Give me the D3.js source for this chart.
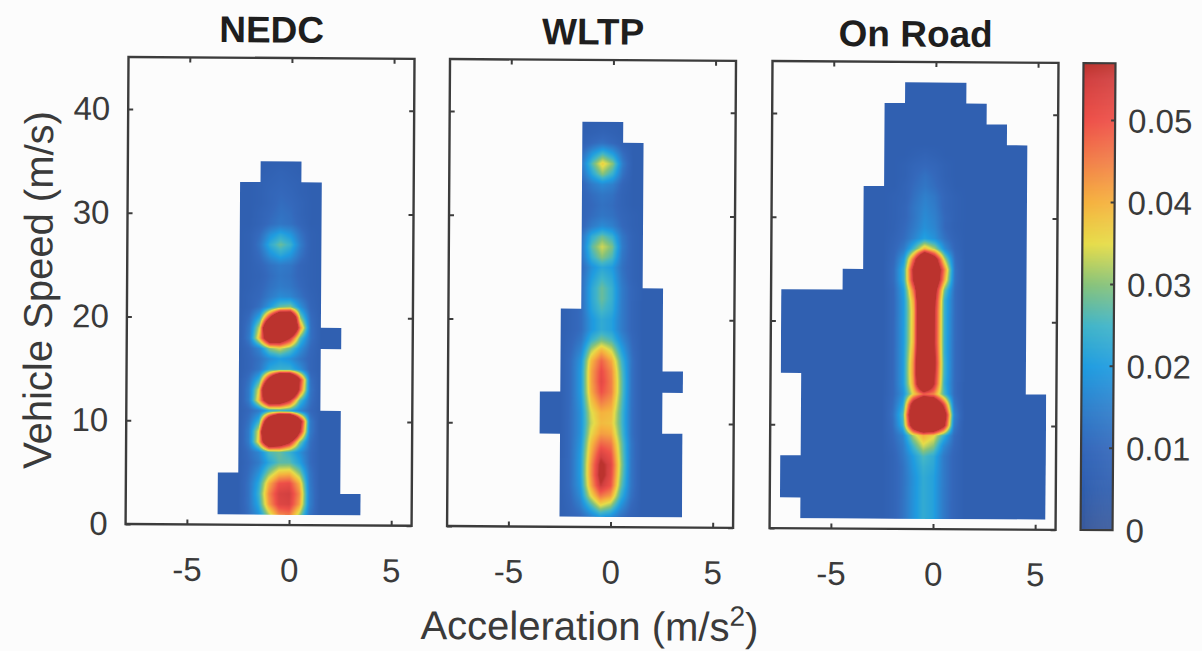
<!DOCTYPE html>
<html>
<head>
<meta charset="utf-8">
<script src="https://cdn.jsdelivr.net/npm/d3@7"></script>
<style>
  html, body { margin: 0; padding: 0; background: #fcfcfc; }
  svg { display: block; }
  text { font-family: "Liberation Sans", Arial, Helvetica, sans-serif; }
</style>
</head>
<body>
<svg id="chart" width="1202" height="651"></svg>
<script>
// ---------------------------------------------------------------------------
// Data
// ---------------------------------------------------------------------------
const panelTitles = ["NEDC", "WLTP", "On Road"];
const accelTicks = [-5, 0, 5];
const speedTicks = [0, 10, 20, 30, 40];
const colorTicks = [0, 0.01, 0.02, 0.03, 0.04, 0.05];
const colorTickLabels = ["0", "0.01", "0.02", "0.03", "0.04", "0.05"];

// Occupied 2 m/s x 1 m/s^2 bins: [speed bin centre, first accel bin, last accel bin]
const nedcBins = [
  [2, -3, 3], [4, -3, 2], [6, -2, 2], [8, -2, 2], [10, -2, 2], [12, -2, 1],
  [14, -2, 1], [16, -2, 1], [18, -2, 2], [20, -2, 1], [22, -2, 1], [24, -2, 1],
  [26, -2, 1], [28, -2, 1], [30, -2, 1], [32, -2, 1], [34, -1, 0]
];
const wltpBins = [
  [2, -2, 3], [4, -2, 3], [6, -2, 3], [8, -2, 3], [10, -3, 2], [12, -3, 2],
  [14, -2, 3], [16, -2, 2], [18, -2, 2], [20, -2, 2], [22, -1, 2], [24, -1, 1],
  [26, -1, 1], [28, -1, 1], [30, -1, 1], [32, -1, 1], [34, -1, 1], [36, -1, 1],
  [38, -1, 0]
];
const roadBins = [
  [2, -6, 5], [4, -7, 5], [6, -7, 5], [8, -6, 5], [10, -6, 5], [12, -6, 5],
  [14, -6, 4], [16, -7, 4], [18, -7, 4], [20, -7, 4], [22, -7, 4], [24, -4, 4],
  [26, -3, 4], [28, -3, 4], [30, -3, 4], [32, -3, 4], [34, -2, 4], [36, -2, 4],
  [38, -2, 3], [40, -2, 2], [42, -1, 1]
];

// Density estimate (x 0.001) sampled at these accelerations, one row per 1 m/s of speed
// starting at 0 m/s. Outside the sampled window the density is the floor value.
const densityAccel = [-2, -1.5, -1, -0.5, 0, 0.5, 1];
const densityFloor = 6;

const nedcDensity = [
  [10, 14, 22, 30, 32, 22, 11],
  [11, 18, 32, 44, 46, 32, 13],
  [12, 22, 42, 53, 54, 42, 15],
  [12, 24, 44, 54, 55, 44, 15],
  [12, 22, 40, 50, 51, 40, 14],
  [11, 18, 30, 38, 39, 30, 13],
  [10, 14, 22, 27, 27, 21, 11],
  [11, 16, 26, 28, 24, 18, 11],
  [14, 38, 84, 76, 60, 30, 12],
  [14, 36, 120, 130, 110, 58, 14],
  [12, 24, 80, 130, 130, 66, 14],
  [10, 14, 22, 24, 22, 16, 10],
  [14, 40, 76, 72, 56, 26, 12],
  [14, 36, 110, 130, 110, 50, 13],
  [12, 24, 64, 110, 110, 56, 12],
  [9, 13, 22, 24, 24, 18, 9],
  [9, 12, 17, 20, 18, 13, 9],
  [10, 16, 30, 34, 28, 18, 10],
  [14, 40, 78, 74, 56, 26, 12],
  [13, 34, 100, 120, 100, 44, 12],
  [11, 22, 56, 90, 90, 30, 11],
  [8, 12, 20, 28, 30, 18, 9],
  [8, 10, 14, 17, 16, 12, 8],
  [7, 9, 12, 14, 13, 10, 7],
  [7, 8, 11, 13, 12, 9, 7],
  [7, 9, 12, 14, 13, 9, 7],
  [7, 11, 18, 22, 19, 12, 7],
  [7, 13, 23, 28, 24, 14, 7],
  [7, 11, 18, 22, 19, 12, 7],
  [6, 8, 11, 13, 12, 9, 6],
  [6, 8, 10, 12, 11, 8, 6],
  [6, 7, 9, 11, 10, 8, 6],
  [6, 7, 9, 10, 9, 7, 6],
  [6, 7, 8, 9, 8, 7, 6],
  [6, 6, 7, 8, 7, 6, 6],
  [6, 6, 6, 6, 6, 6, 6]
];

const wltpDensity = [
  [7, 8, 10, 12, 11, 8, 7],
  [8, 10, 15, 20, 18, 12, 8],
  [9, 14, 24, 34, 30, 18, 10],
  [10, 17, 34, 46, 42, 24, 12],
  [11, 19, 40, 56, 50, 28, 13],
  [11, 20, 42, 60, 52, 30, 13],
  [11, 20, 42, 59, 53, 31, 13],
  [11, 20, 40, 54, 50, 30, 13],
  [11, 19, 38, 48, 46, 29, 13],
  [11, 18, 35, 42, 41, 27, 12],
  [11, 18, 33, 39, 38, 26, 12],
  [11, 18, 34, 40, 39, 26, 12],
  [11, 19, 37, 45, 42, 27, 12],
  [11, 20, 40, 50, 45, 28, 12],
  [11, 20, 41, 52, 45, 28, 12],
  [11, 20, 41, 51, 44, 27, 12],
  [11, 19, 39, 48, 41, 25, 12],
  [10, 16, 32, 40, 34, 21, 11],
  [9, 13, 24, 29, 26, 17, 10],
  [8, 11, 19, 23, 21, 14, 9],
  [8, 11, 19, 23, 21, 14, 9],
  [8, 11, 21, 26, 23, 14, 9],
  [8, 11, 22, 28, 24, 14, 9],
  [8, 11, 22, 28, 24, 14, 9],
  [8, 11, 20, 25, 22, 13, 8],
  [7, 10, 18, 22, 20, 12, 8],
  [7, 12, 24, 30, 26, 13, 8],
  [7, 13, 27, 34, 29, 14, 8],
  [7, 12, 23, 28, 24, 13, 8],
  [7, 9, 14, 17, 15, 10, 7],
  [6, 8, 11, 13, 12, 9, 7],
  [6, 8, 10, 12, 11, 8, 6],
  [6, 8, 11, 13, 12, 8, 6],
  [6, 9, 14, 17, 15, 9, 6],
  [6, 12, 22, 30, 24, 12, 6],
  [6, 14, 27, 37, 30, 14, 6],
  [6, 11, 19, 25, 20, 11, 6],
  [6, 7, 10, 12, 10, 7, 6],
  [6, 6, 7, 8, 7, 6, 6],
  [6, 6, 6, 6, 6, 6, 6]
];

const roadDensity = [
  [8, 11, 17, 22, 20, 13, 9],
  [8, 12, 18, 23, 21, 14, 9],
  [8, 12, 18, 23, 21, 14, 9],
  [8, 12, 18, 23, 21, 14, 9],
  [8, 12, 18, 23, 21, 14, 9],
  [8, 12, 18, 23, 21, 14, 9],
  [8, 12, 19, 24, 22, 14, 9],
  [8, 13, 20, 26, 23, 14, 9],
  [9, 14, 25, 34, 30, 17, 10],
  [10, 16, 32, 40, 36, 24, 11],
  [11, 24, 70, 95, 90, 62, 14],
  [12, 26, 80, 102, 96, 70, 16],
  [11, 22, 66, 90, 84, 52, 13],
  [10, 18, 36, 48, 44, 26, 11],
  [10, 20, 42, 90, 58, 24, 11],
  [10, 20, 44, 100, 60, 25, 11],
  [10, 20, 44, 100, 62, 25, 11],
  [10, 20, 42, 98, 60, 24, 11],
  [10, 20, 40, 96, 58, 24, 11],
  [10, 20, 40, 96, 58, 24, 11],
  [10, 20, 40, 96, 58, 24, 11],
  [10, 20, 40, 96, 58, 24, 11],
  [10, 20, 42, 96, 60, 24, 11],
  [10, 21, 48, 98, 64, 28, 11],
  [11, 24, 60, 100, 74, 40, 12],
  [11, 24, 62, 104, 76, 44, 12],
  [10, 20, 50, 90, 66, 32, 11],
  [9, 14, 26, 40, 32, 17, 9],
  [8, 11, 16, 21, 18, 12, 8],
  [7, 10, 14, 18, 16, 10, 7],
  [7, 9, 13, 17, 15, 10, 7],
  [7, 9, 13, 16, 14, 9, 7],
  [7, 8, 12, 15, 13, 9, 7],
  [6, 8, 11, 13, 11, 8, 6],
  [6, 7, 10, 12, 10, 7, 6],
  [6, 7, 9, 10, 9, 7, 6],
  [6, 6, 7, 8, 7, 6, 6],
  [6, 6, 6, 6, 6, 6, 6]
];

const panels = [
  { title: panelTitles[0], bins: nedcBins, density: nedcDensity },
  { title: panelTitles[1], bins: wltpBins, density: wltpDensity },
  { title: panelTitles[2], bins: roadBins, density: roadDensity }
];

// ---------------------------------------------------------------------------
// Layout and styles
// ---------------------------------------------------------------------------
const W = 286, H = 467, TOP = 60;
const panelLeft = [127, 448.5, 771];
const cbLeft = 1082, cbWidth = 32;
const frameColor = "#3c3c3c";
const textColor = "#3a3a3a";
const tickFont = 33, labelFont = 40, titleFont = 37;

// Jet colour map as it appears in print
const colorDomain = [0, 0.005, 0.01, 0.015, 0.02, 0.025, 0.03, 0.035, 0.04, 0.045, 0.05, 0.055, 0.057];
const colorRange = ["#3a5a9c", "#2f5eaf", "#3468bb", "#2f80cc", "#1f9ce0", "#40b4c8",
                    "#86c27a", "#e6dc48", "#f5b23e", "#f28048", "#ee5048", "#d24040", "#bb332e"];

const x = d3.scaleLinear().domain([-8, 6]).range([0, W]);
const y = d3.scaleLinear().domain([0, 45]).range([H, 0]);
const color = d3.scaleLinear().domain(colorDomain).range(colorRange).clamp(true);

const svg = d3.select("#chart");
const root = svg.append("g").attr("transform", "rotate(0.36,600,300)");

// Bilinear lookup in a density table (values x 0.001)
function densityAt(table, a, v) {
  const step = densityAccel[1] - densityAccel[0];
  const fa = (a - densityAccel[0]) / step;
  const j0 = Math.floor(fa), u = fa - j0;
  const i0 = Math.floor(v), t = v - i0;
  const get = (i, j) => (i >= 0 && i < table.length && j >= 0 && j < densityAccel.length)
    ? table[i][j] : densityFloor;
  const v00 = get(i0, j0), v01 = get(i0, j0 + 1), v10 = get(i0 + 1, j0), v11 = get(i0 + 1, j0 + 1);
  return ((v00 * (1 - u) + v01 * u) * (1 - t) + (v10 * (1 - u) + v11 * u) * t) / 1000;
}

function densityImage(table) {
  const canvas = document.createElement("canvas");
  canvas.width = W; canvas.height = H;
  const ctx = canvas.getContext("2d");
  const img = ctx.createImageData(W, H);
  for (let py = 0; py < H; py++) {
    const v = y.invert(py + 0.5);
    for (let px = 0; px < W; px++) {
      const a = x.invert(px + 0.5);
      const c = d3.rgb(color(densityAt(table, a, v)));
      const k = (py * W + px) * 4;
      img.data[k] = c.r; img.data[k + 1] = c.g; img.data[k + 2] = c.b; img.data[k + 3] = 255;
    }
  }
  ctx.putImageData(img, 0, 0);
  return canvas.toDataURL();
}

panels.forEach((p, k) => {
  const g = root.append("g").attr("transform", `translate(${panelLeft[k]},${TOP})`);

  // occupied bins form the clipping region of the density map
  const clipId = "bins" + k;
  g.append("clipPath").attr("id", clipId)
    .selectAll("rect").data(p.bins).join("rect")
    .attr("x", d => x(d[1] - 0.5))
    .attr("width", d => x(d[2] + 0.5) - x(d[1] - 0.5))
    .attr("y", d => y(d[0] + 1) - 0.3)
    .attr("height", d => y(d[0] - 1) - y(d[0] + 1) + 0.6);

  g.append("image")
    .attr("href", densityImage(p.density))
    .attr("width", W).attr("height", H)
    .attr("preserveAspectRatio", "none")
    .attr("clip-path", `url(#${clipId})`);

  // axes with inward ticks on all four sides
  const tickLen = 5;
  const xb = g.append("g").attr("transform", `translate(0,${H})`)
    .call(d3.axisBottom(x).tickValues(accelTicks).tickSizeInner(-tickLen).tickSizeOuter(0).tickPadding(33)
      .tickFormat(d => d3.format("d")(d).replace("\u2212", "-")));
  const xt = g.append("g")
    .call(d3.axisTop(x).tickValues(accelTicks).tickSizeInner(-tickLen).tickSizeOuter(0).tickFormat(""));
  const yl = g.append("g")
    .call(d3.axisLeft(y).tickValues(speedTicks).tickSizeInner(-tickLen).tickSizeOuter(0).tickPadding(18)
      .tickFormat(k === 0 ? d3.format("d") : ""));
  const yr = g.append("g").attr("transform", `translate(${W},0)`)
    .call(d3.axisRight(y).tickValues(speedTicks).tickSizeInner(-tickLen).tickSizeOuter(0).tickFormat(""));
  [xb, xt, yl, yr].forEach(ax => {
    ax.select(".domain").remove();
    ax.selectAll(".tick line").attr("stroke", frameColor).attr("stroke-width", 2);
    ax.selectAll(".tick text").attr("fill", textColor).style("font-size", tickFont + "px")
      .style("font-family", '"Liberation Sans", Arial, sans-serif');
  });

  g.append("rect").attr("x", 0).attr("y", 0).attr("width", W).attr("height", H)
    .attr("fill", "none").attr("stroke", frameColor).attr("stroke-width", 2.4);

  g.append("text").attr("x", W / 2).attr("y", -15.5)
    .attr("text-anchor", "middle").attr("fill", "#1e1e1e")
    .style("font-size", titleFont + "px").style("font-weight", "bold")
    .text(p.title);
});

// axis titles
const xTitle = root.append("text")
  .attr("x", panelLeft[1] + W / 2).attr("y", 640)
  .attr("text-anchor", "middle").attr("fill", textColor)
  .style("font-size", labelFont + "px");
xTitle.append("tspan").text("Acceleration (m/s");
xTitle.append("tspan").attr("dy", -15).style("font-size", "28px").text("2");
xTitle.append("tspan").attr("dy", 15).text(")");

root.append("text")
  .attr("transform", `translate(52,${TOP + H / 2}) rotate(-90)`)
  .attr("text-anchor", "middle").attr("fill", textColor)
  .style("font-size", labelFont + "px")
  .text("Vehicle Speed (m/s)");

// colour bar
const cbMax = colorDomain[colorDomain.length - 1];
const cy = d3.scaleLinear().domain([0, cbMax]).range([TOP + H, TOP]);
const cb = root.append("g");
const steps = d3.range(0, H);
cb.selectAll("rect.band").data(steps).join("rect").attr("class", "band")
  .attr("x", cbLeft).attr("width", cbWidth)
  .attr("y", d => TOP + H - d - 1).attr("height", 1.6)
  .attr("fill", d => color(cy.invert(TOP + H - d - 0.5)));
cb.append("rect").attr("x", cbLeft).attr("y", TOP).attr("width", cbWidth).attr("height", H)
  .attr("fill", "none").attr("stroke", frameColor).attr("stroke-width", 2.2);
cb.selectAll("line.tick").data(colorTicks.slice(1)).join("line").attr("class", "tick")
  .attr("x1", cbLeft + cbWidth - 4).attr("x2", cbLeft + cbWidth)
  .attr("y1", d => cy(d)).attr("y2", d => cy(d))
  .attr("stroke", frameColor).attr("stroke-width", 2);
cb.selectAll("text").data(colorTicks).join("text")
  .attr("x", cbLeft + cbWidth + 13).attr("y", d => cy(d)).attr("dy", "0.36em")
  .attr("fill", textColor).style("font-size", tickFont + "px")
  .text((d, i) => colorTickLabels[i]);
</script>
</body>
</html>
